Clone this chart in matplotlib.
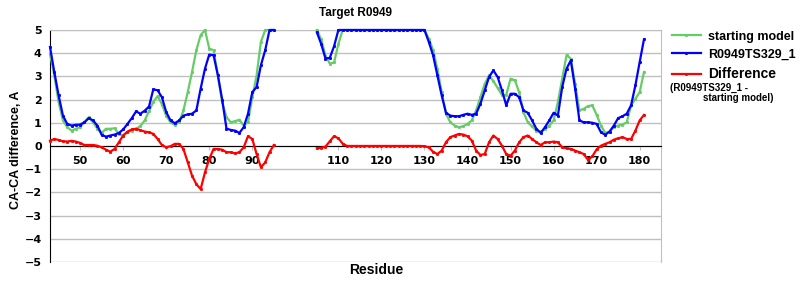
import numpy as np
import matplotlib
matplotlib.use("Agg")
import matplotlib.pyplot as pyplot

# residues with coordinates (gap 96-104 not modelled)
res_a = list(range(43, 96))
res_b = list(range(105, 182))

model_a = [4.27, 3.19, 2.18, 1.31, 0.95, 0.88, 0.91, 0.92, 1.02, 1.20,
           1.10, 0.88, 0.48, 0.40, 0.45, 0.49, 0.56, 0.71, 0.95, 1.20,
           1.49, 1.39, 1.52, 1.70, 2.44, 2.40, 2.10, 1.46, 1.10, 0.98,
           1.10, 1.31, 1.36, 1.39, 1.53, 2.47, 3.33, 3.94, 3.91, 3.05,
           2.00, 0.75, 0.69, 0.66, 0.56, 0.81, 1.39, 2.32, 2.54, 3.48,
           4.13, 5.00, 5.00]
model_b = [4.90, 4.40, 3.77, 3.80, 4.30, 5.00, 5.00, 5.00, 5.00, 5.00,
           5.00, 5.00, 5.00, 5.00, 5.00, 5.00, 5.00, 5.00, 5.00, 5.00,
           5.00, 5.00, 5.00, 5.00, 5.00, 5.00, 4.49, 3.91, 3.04, 2.18,
           1.43, 1.31, 1.28, 1.28, 1.34, 1.39, 1.34, 1.39, 1.82, 2.40,
           2.97, 3.26, 2.97, 2.40, 1.75, 2.25, 2.25, 2.10, 1.53, 1.43,
           1.10, 0.74, 0.56, 0.81, 1.10, 1.43, 1.31, 2.54, 3.33, 3.69,
           2.47, 1.10, 1.02, 1.02, 1.00, 0.95, 0.59, 0.48, 0.62, 0.88,
           1.20, 1.28, 1.39, 1.75, 2.61, 3.62, 4.60]

start_a = [3.98, 3.04, 1.89, 1.10, 0.81, 0.66, 0.74, 0.81, 1.02, 1.24,
           1.02, 0.74, 0.56, 0.74, 0.74, 0.76, 0.52, 0.45, 0.59, 0.66,
           0.74, 0.86, 1.10, 1.50, 1.90, 2.15, 1.80, 1.30, 1.02, 0.91,
           1.02, 1.53, 2.32, 3.19, 4.13, 4.78, 5.00, 4.20, 4.13, 3.04,
           1.89, 1.24, 1.02, 1.07, 1.13, 0.88, 1.02, 2.10, 3.04, 4.49,
           5.00, 5.00, 5.00]
start_b = [5.00, 4.60, 3.90, 3.55, 3.60, 4.40, 5.00, 5.00, 5.00, 5.00,
           5.00, 5.00, 5.00, 5.00, 5.00, 5.00, 5.00, 5.00, 5.00, 5.00,
           5.00, 5.00, 5.00, 5.00, 5.00, 5.00, 4.63, 4.13, 3.33, 2.32,
           1.39, 1.02, 0.88, 0.81, 0.85, 0.95, 1.10, 1.53, 2.10, 2.68,
           3.04, 2.80, 2.50, 2.20, 2.20, 2.90, 2.83, 2.32, 1.46, 1.02,
           0.84, 0.66, 0.62, 0.71, 0.88, 1.10, 1.89, 2.90, 3.91, 3.77,
           2.68, 1.53, 1.60, 1.72, 1.75, 1.34, 0.88, 0.56, 0.62, 0.81,
           0.88, 0.92, 1.02, 1.75, 2.03, 2.32, 3.19]

diff_a = [0.23, 0.30, 0.26, 0.20, 0.19, 0.22, 0.19, 0.13, 0.04, 0.04,
          0.04, 0.01, -0.06, -0.16, -0.25, -0.13, 0.16, 0.45, 0.62, 0.71,
          0.74, 0.68, 0.62, 0.59, 0.52, 0.30, 0.04, -0.06, -0.01, 0.09,
          0.09, -0.13, -0.71, -1.28, -1.65, -1.86, -1.14, -0.56, -0.13, -0.13,
          -0.16, -0.27, -0.27, -0.32, -0.27, -0.06, 0.42, 0.30, -0.35, -0.92,
          -0.71, -0.27, 0.04]
diff_b = [-0.10, -0.08, -0.03, 0.20, 0.42, 0.33, 0.10, 0.00, 0.00, 0.00,
          0.00, 0.00, 0.00, 0.00, 0.00, 0.00, 0.00, 0.00, 0.00, 0.00,
          0.00, 0.00, 0.00, 0.00, 0.00, -0.01, -0.06, -0.25, -0.35, -0.20,
          0.16, 0.38, 0.45, 0.52, 0.49, 0.42, 0.23, -0.20, -0.39, -0.35,
          0.16, 0.45, 0.30, 0.01, -0.35, -0.42, -0.20, 0.16, 0.38, 0.45,
          0.30, 0.16, 0.04, 0.16, 0.16, 0.19, 0.16, -0.06, -0.10, -0.13,
          -0.20, -0.27, -0.35, -0.60, -0.45, -0.15, 0.01, 0.09, 0.16, 0.27,
          0.33, 0.38, 0.30, 0.30, 0.66, 1.10, 1.34]

# no residue 100 in the structure, so no label there
xticks = [50, 60, 70, 80, 90, 110, 120, 130, 140, 150, 160, 170, 180]
yticks = list(range(-5, 6))


def joined(a, b):
    # nan between the two segments so the line breaks over the gap
    return np.array(a + [np.nan] + b, dtype=float)


res = np.array(res_a + [100] + res_b, dtype=float)

fig = pyplot.figure(figsize=(8, 3), dpi=100)
ax = fig.add_axes([0.0625, 0.127, 0.764, 0.773])

grid = '#c0c0c0'
sans = 'Liberation Sans'
ax.set_ylim(-5, 5)
ax.set_xlim(43, 185)
ax.set_yticks(yticks)
ax.set_xticks(xticks)
ax.yaxis.grid(True, color=grid, linewidth=1)
ax.set_axisbelow(True)

kw = dict(linewidth=1.6, marker='s', markersize=1.1, clip_on=False, zorder=3)
ax.plot(res, joined(start_a, start_b), color='#66cc66', label='starting model', **kw)
ax.plot(res, joined(model_a, model_b), color='#0000ff', label='R0949TS329_1', **kw)
ax.plot(res, joined(diff_a, diff_b), color='#ff0000', label='Difference', **kw)

ax.spines['bottom'].set_position(('data', 0))
ax.spines['bottom'].set_color('black')
ax.spines['left'].set_color('black')
ax.spines['top'].set_color(grid)
ax.spines['right'].set_color(grid)
ax.tick_params(axis='x', direction='out', length=3, color=grid, pad=4)
ax.tick_params(axis='y', length=0, pad=6)
ax.set_yticklabels([str(v).replace('-', '\u2212') for v in yticks])
for lab in ax.get_xticklabels() + ax.get_yticklabels():
    lab.set_fontweight('bold')
    lab.set_fontsize(8)

ax.set_title('Target R0949', fontsize=8.5, fontweight='bold', family=sans, pad=10)
fig.text(16 / 800, 0.5, 'CA-CA difference, A', rotation=90, ha='center', va='center',
         fontsize=9, fontweight='bold', family=sans)
fig.text(376 / 800, 1 - 270 / 300, 'Residue', ha='center', va='center',
         fontsize=10, fontweight='bold', family=sans)

leg = ax.legend(loc='upper left', bbox_to_anchor=(1.005, 1.03), frameon=False,
                prop={'weight': 'bold', 'size': 9, 'family': sans}, handlelength=2.3,
                handletextpad=0.6, labelspacing=0.5, borderaxespad=0.2)
leg.get_texts()[2].set_fontsize(10)
fig.text(670 / 800, 1 - 88 / 300, '(R0949TS329_1 -', fontsize=7, fontweight='bold',
         family=sans, va='center')
fig.text(703 / 800, 1 - 98 / 300, 'starting model)', fontsize=7, fontweight='bold',
         family=sans, va='center')

fig.savefig('out.png', dpi=100)
